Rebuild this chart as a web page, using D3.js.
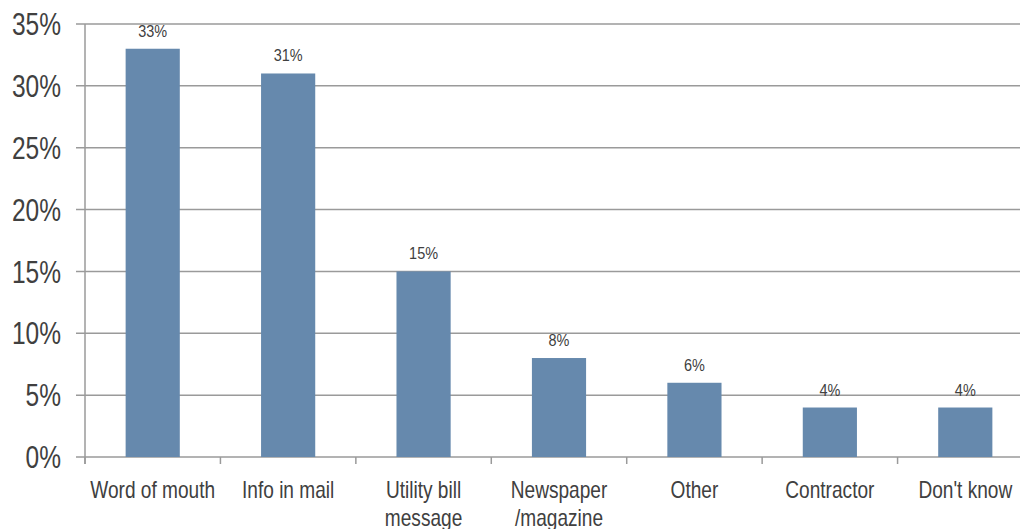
<!DOCTYPE html>
<html>
<head>
<meta charset="utf-8">
<script src="https://cdn.jsdelivr.net/npm/d3@7/dist/d3.min.js"></script>
<style>
  html, body { margin: 0; padding: 0; background: #fff; }
  svg { display: block; }
  text { font-family: "Liberation Sans", Arial, sans-serif; }
</style>
</head>
<body>
<svg id="chart" width="1020" height="529"></svg>
<script>
// Survey responses: how people heard about the programme
const categories = ["Word of mouth", "Info in mail", "Utility bill message", "Newspaper /magazine", "Other", "Contractor", "Don't know"];
const categoryLines = [["Word of mouth"], ["Info in mail"], ["Utility bill", "message"], ["Newspaper", "/magazine"], ["Other"], ["Contractor"], ["Don't know"]];
const values = [33, 31, 15, 8, 6, 4, 4];
const yTicks = [0, 5, 10, 15, 20, 25, 30, 35];

const svg = d3.select("#chart");
const plotLeft = 85, plotRight = 1033, plotTop = 24, plotBottom = 457;

// text is drawn in a horizontally condensed style
const condensed = (px, py, s) => `translate(${px},${py}) scale(${s},1)`;

const x = d3.scaleBand()
  .domain(categories)
  .range([plotLeft, plotRight])
  .paddingInner(0.6)
  .paddingOuter(0.3);

const y = d3.scaleLinear().domain([0, 35]).range([plotBottom, plotTop]);

// horizontal gridlines with short tick stubs to the left of the axis
svg.append("g")
  .selectAll("line")
  .data(yTicks)
  .join("line")
  .attr("x1", plotLeft - 9)
  .attr("x2", 1020)
  .attr("y1", d => y(d))
  .attr("y2", d => y(d))
  .attr("stroke", "#9a9a9a")
  .attr("stroke-width", 1.5);

// y tick labels
svg.append("g")
  .selectAll("text")
  .data(yTicks)
  .join("text")
  .attr("transform", d => condensed(61, y(d), 0.79))
  .attr("dy", "0.36em")
  .attr("text-anchor", "end")
  .attr("fill", "#404040")
  .style("font-size", "31px")
  .text(d => d + "%");

// vertical axis line
svg.append("line")
  .attr("x1", plotLeft).attr("x2", plotLeft)
  .attr("y1", plotTop).attr("y2", plotBottom + 7)
  .attr("stroke", "#9a9a9a")
  .attr("stroke-width", 1.5);

// category boundary ticks below the baseline
const step = x.step();
const boundaries = d3.range(categories.length + 1).map(i => plotLeft + i * step);
svg.append("g")
  .selectAll("line")
  .data(boundaries)
  .join("line")
  .attr("x1", d => d).attr("x2", d => d)
  .attr("y1", plotBottom).attr("y2", plotBottom + 7)
  .attr("stroke", "#9a9a9a")
  .attr("stroke-width", 1.5);

// bars
svg.append("g")
  .selectAll("rect")
  .data(values)
  .join("rect")
  .attr("x", (d, i) => x(categories[i]))
  .attr("width", x.bandwidth())
  .attr("y", d => y(d))
  .attr("height", d => y(0) - y(d))
  .attr("fill", "#6689ad");

// value labels
svg.append("g")
  .selectAll("text")
  .data(values)
  .join("text")
  .attr("transform", (d, i) => condensed(x(categories[i]) + x.bandwidth() / 2, y(d) - 12, 0.85))
  .attr("text-anchor", "middle")
  .attr("fill", "#404040")
  .style("font-size", "17px")
  .text(d => d + "%");

// category labels (wrapped)
const catG = svg.append("g")
  .selectAll("text")
  .data(categories)
  .join("text")
  .attr("transform", d => condensed(x(d) + x.bandwidth() / 2, 498, 0.83))
  .attr("text-anchor", "middle")
  .attr("fill", "#404040")
  .style("font-size", "23px");
catG.each(function(d, i) {
  d3.select(this).selectAll("tspan")
    .data(categoryLines[i])
    .join("tspan")
    .attr("x", 0)
    .attr("dy", (t, j) => j === 0 ? 0 : 28)
    .text(t => t);
});
</script>
</body>
</html>
